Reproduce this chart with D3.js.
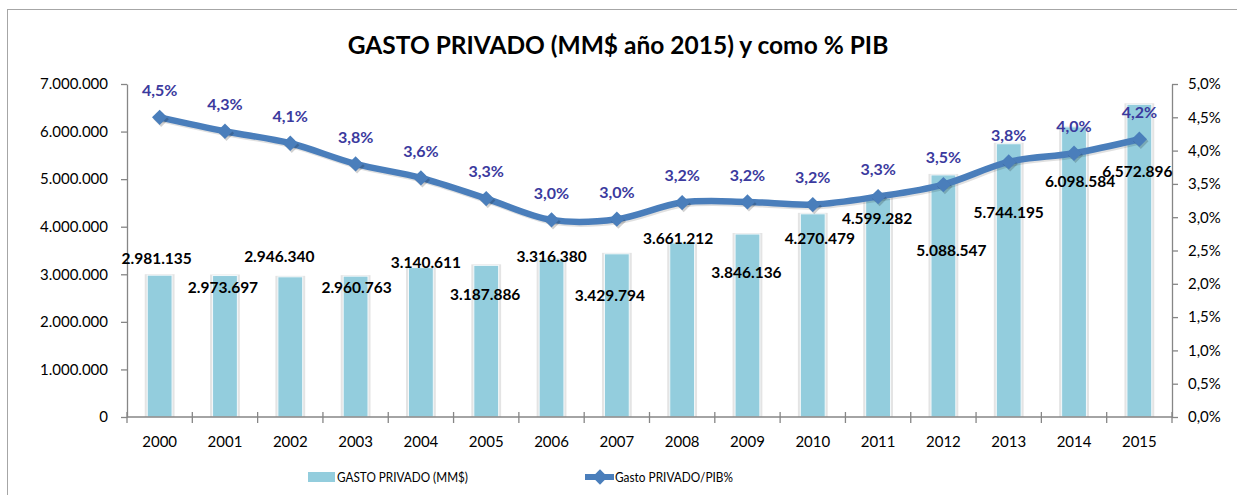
<!DOCTYPE html>
<html>
<head>
<meta charset="utf-8">
<script src="https://cdn.jsdelivr.net/npm/d3@7"></script>
<style>
  body { margin: 0; background: #fff; }
  svg { display: block; font-family: Lato, "Open Sans", sans-serif; }
</style>
</head>
<body>
<svg id="chart"></svg>
<script>
(function () {

// Data
const years = ["2000", "2001", "2002", "2003", "2004", "2005", "2006", "2007",
               "2008", "2009", "2010", "2011", "2012", "2013", "2014", "2015"];
const gasto = [2981135, 2973697, 2946340, 2960763, 3140611, 3187886, 3316380, 3429794,
               3661212, 3846136, 4270479, 4599282, 5088547, 5744195, 6098584, 6572896];
const pibPct = [0.0450, 0.0429, 0.0411, 0.0380, 0.0359, 0.0328, 0.0296, 0.0297,
                0.0322, 0.0323, 0.0319, 0.0331, 0.0349, 0.0383, 0.0396, 0.0417];
const leftTicks = [0, 1000000, 2000000, 3000000, 4000000, 5000000, 6000000, 7000000];
const rightTicks = [0, 0.005, 0.01, 0.015, 0.02, 0.025, 0.03, 0.035, 0.04, 0.045, 0.05];

// manual placement of the bar value labels (px, relative to bar top / band centre)
const labelDx = [-3, -2, -11, 1, 5, -1, 0, -7, -4, -1, 7, -1, 8, 0, 6, -2];
const labelDy = [-17, 12, -20, 11, -5, 29, -3, 42, -4, 38, 25, 20, 75, 69, 55, 67];

const W = 1237, H = 495;
const margin = {top: 84, right: 65, bottom: 78, left: 127},
    width = W - margin.left - margin.right,
    height = H - margin.top - margin.bottom;

const es = d3.formatLocale({decimal: ",", thousands: ".", grouping: [3], currency: ["$", ""]});
const fmtNum = es.format(",d");
const fmtPct = es.format(".1%");

const svg = d3.select("#chart").attr("width", W).attr("height", H);

// outer frame
svg.append("rect")
    .attr("x", 7.5).attr("y", 9.5)
    .attr("width", W + 20).attr("height", H + 20)
    .attr("fill", "none").attr("stroke", "#a6a6a6");

svg.append("text")
    .attr("x", 618).attr("y", 54)
    .attr("text-anchor", "middle")
    .style("font-size", "24.5px").style("font-weight", "bold")
    .attr("fill", "#000")
    .text("GASTO  PRIVADO (MM$ año 2015) y como % PIB");

const g = svg.append("g").attr("transform", `translate(${margin.left},${margin.top})`);

const x = d3.scaleBand().domain(years).range([0, width]).padding(0);
const yL = d3.scaleLinear().domain([0, 7000000]).range([height, 0]);
const yR = d3.scaleLinear().domain([0, 0.05]).range([height, 0]);
const barW = x.bandwidth() * 0.38;
const cx = d => x(d) + x.bandwidth() / 2;

// bars with a soft shadow
g.selectAll(".bar-shadow")
    .data(years)
    .enter().append("rect")
    .attr("class", "bar-shadow")
    .attr("x", d => cx(d) - barW / 2 - 2.5)
    .attr("y", (d, i) => yL(gasto[i]) - 1)
    .attr("width", barW + 5)
    .attr("height", (d, i) => height - yL(gasto[i]) + 1)
    .attr("fill", "#e4e4e4");

g.selectAll(".bar")
    .data(years)
    .enter().append("rect")
    .attr("class", "bar")
    .attr("x", d => cx(d) - barW / 2)
    .attr("y", (d, i) => yL(gasto[i]))
    .attr("width", barW)
    .attr("height", (d, i) => height - yL(gasto[i]))
    .attr("fill", "#93cddd")
    .attr("stroke", "#f4f9fb").attr("stroke-width", 1);

// axes
const axisColor = "#868686";
const left = g.append("g")
    .call(d3.axisLeft(yL).tickValues(leftTicks).tickFormat(fmtNum)
        .tickSize(6).tickSizeOuter(0).tickPadding(13));
const right = g.append("g")
    .attr("transform", `translate(${width},0)`)
    .call(d3.axisRight(yR).tickValues(rightTicks).tickFormat(fmtPct)
        .tickSize(6).tickSizeOuter(0).tickPadding(10));
const bottom = g.append("g")
    .attr("transform", `translate(0,${height})`)
    .call(d3.axisBottom(x).tickSize(0).tickPadding(19));
bottom.select(".domain").attr("d", `M0,0H${width}`);

// tick marks on the category boundaries
bottom.selectAll(".sep")
    .data(years.concat(["end"]))
    .enter().append("line")
    .attr("class", "sep")
    .attr("x1", (d, i) => i * x.step()).attr("x2", (d, i) => i * x.step())
    .attr("y1", -5).attr("y2", 6)
    .attr("stroke", axisColor);

[left, right, bottom].forEach(a => {
    a.selectAll(".domain, line").attr("stroke", axisColor).attr("stroke-width", 1.3);
    a.selectAll("text").attr("fill", "#000").style("font-size", "15px").attr("font-family", "Lato, sans-serif");
});

// line series
const pts = years.map((d, i) => [cx(d), yR(pibPct[i])]);
const lineGen = d3.line().curve(d3.curveCardinal.tension(0));

g.append("path")
    .attr("d", lineGen(pts.map(p => [p[0] + 1.5, p[1] + 2])))
    .attr("fill", "none").attr("stroke", "rgba(0,0,0,0.12)").attr("stroke-width", 6);
g.append("path")
    .attr("d", lineGen(pts))
    .attr("fill", "none").attr("stroke", "#4a7ebb").attr("stroke-width", 6.5)
    .attr("stroke-linejoin", "round");

const diamond = d3.symbol().type(d3.symbolDiamond2).size(150);
g.selectAll(".mk-shadow")
    .data(pts)
    .enter().append("path")
    .attr("transform", p => `translate(${p[0] + 1.5},${p[1] + 2})`)
    .attr("d", diamond).attr("fill", "rgba(0,0,0,0.18)");
g.selectAll(".mk")
    .data(pts)
    .enter().append("path")
    .attr("class", "mk")
    .attr("transform", p => `translate(${p[0]},${p[1]})`)
    .attr("d", diamond).attr("fill", "#4a7ebb");

// percentage labels
g.selectAll(".pct-label")
    .data(years)
    .enter().append("text")
    .attr("class", "pct-label")
    .attr("x", d => cx(d))
    .attr("y", (d, i) => yR(pibPct[i]) - 27)
    .attr("dy", "0.36em")
    .attr("text-anchor", "middle")
    .style("font-size", "16px").style("font-weight", "bold")
    .attr("fill", "#3b3a9e")
    .text((d, i) => fmtPct(pibPct[i]));

// value labels
g.selectAll(".val-label")
    .data(years)
    .enter().append("text")
    .attr("class", "val-label")
    .attr("x", (d, i) => cx(d) + labelDx[i])
    .attr("y", (d, i) => yL(gasto[i]) + labelDy[i])
    .attr("dy", "0.36em")
    .attr("text-anchor", "middle")
    .style("font-size", "15.5px").style("font-weight", "bold")
    .attr("fill", "#000")
    .text((d, i) => fmtNum(gasto[i]));

// legend
const lg = svg.append("g").attr("transform", "translate(308,477)");
lg.append("rect").attr("x", 0).attr("y", -5).attr("width", 27).attr("height", 10).attr("fill", "#93cddd");
lg.append("text").attr("x", 29).attr("y", 0).attr("dy", "0.36em")
    .attr("textLength", 131).attr("lengthAdjust", "spacingAndGlyphs")
    .style("font-size", "14px").attr("fill", "#000").text("GASTO PRIVADO (MM$)");
lg.append("line").attr("x1", 277).attr("x2", 306).attr("y1", 0).attr("y2", 0)
    .attr("stroke", "#4a7ebb").attr("stroke-width", 6);
lg.append("path").attr("transform", "translate(292,0)").attr("d", diamond).attr("fill", "#4a7ebb");
lg.append("text").attr("x", 307).attr("y", 0).attr("dy", "0.36em")
    .attr("textLength", 118).attr("lengthAdjust", "spacingAndGlyphs")
    .style("font-size", "14px").attr("fill", "#000").text("Gasto PRIVADO/PIB%");

})();
</script>
</body>
</html>
